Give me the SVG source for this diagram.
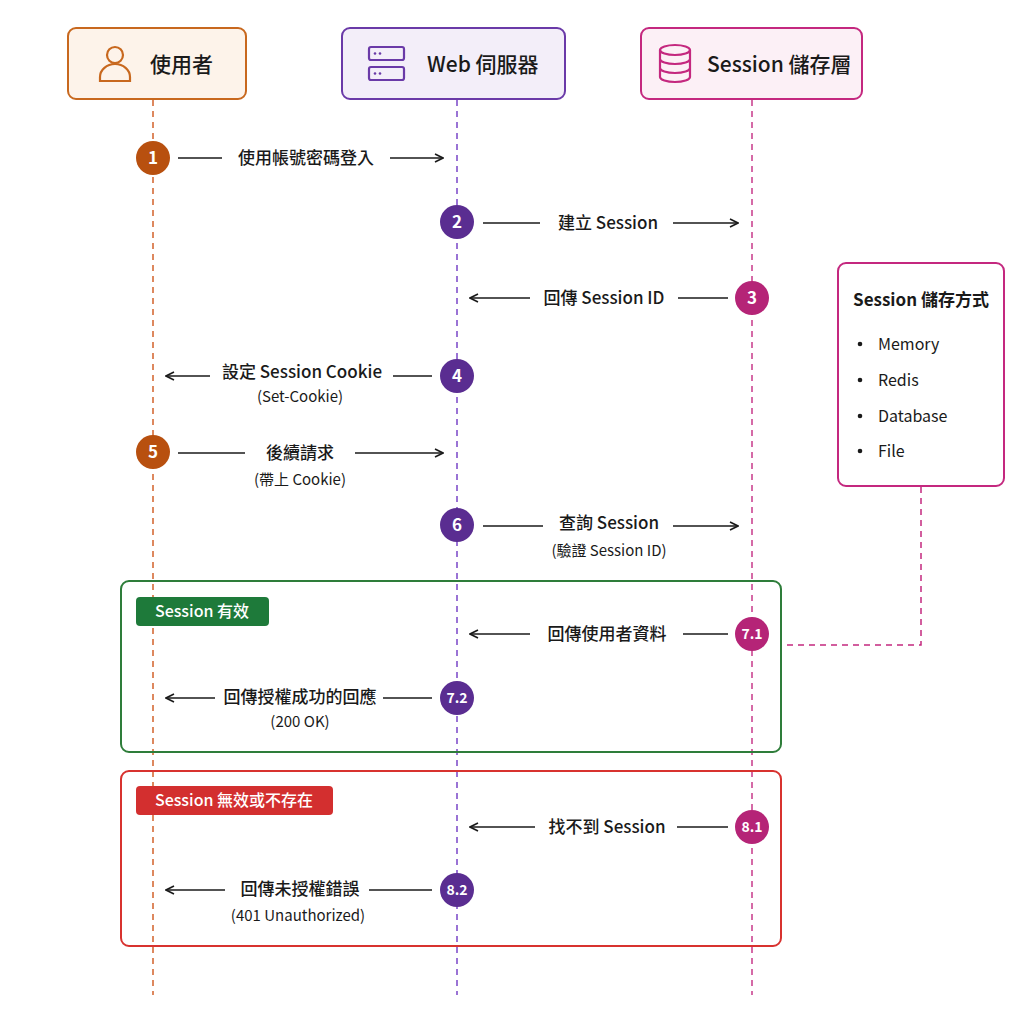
<svg xmlns="http://www.w3.org/2000/svg" width="1024" height="1024" viewBox="0 0 1024 1024">
<style>
text{font-family:"Noto Sans CJK TC","Noto Sans",sans-serif;fill:#1a1a1a}
.h{font-size:21px;font-weight:500}
.m{font-size:17px;font-weight:500;text-anchor:middle}
.s{font-size:15px;text-anchor:middle}
.n{font-size:17px;font-weight:700;fill:#fff;text-anchor:middle}
.nn{font-size:14px;font-weight:700;fill:#fff;text-anchor:middle}
.ln{stroke:#1a1a1a;stroke-width:1.6;fill:none}
.la{stroke:#1a1a1a;stroke-width:1.6;fill:none;marker-end:url(#a)}
</style>
<defs>
<marker id="a" viewBox="0 0 10 10" refX="9" refY="5" markerWidth="10" markerHeight="10" markerUnits="userSpaceOnUse" orient="auto"><path d="M1,1 L9,5 L1,9" fill="none" stroke="#1a1a1a" stroke-width="1.6"/></marker>
</defs>
<rect width="1024" height="1024" fill="#fff"/>
<g id="lifelines">
<line x1="153" y1="100" x2="153" y2="995" stroke="#d2622a" stroke-width="1.5" stroke-dasharray="6,5"/>
<line x1="457" y1="100" x2="457" y2="995" stroke="#7a45c8" stroke-width="1.5" stroke-dasharray="6,5"/>
<line x1="752" y1="100" x2="752" y2="995" stroke="#c83a8a" stroke-width="1.5" stroke-dasharray="6,5"/>
</g>
<g id="user">
<rect x="68" y="28" width="178" height="71" rx="8" fill="#fdf3ea" stroke="#c8681e" stroke-width="2"/>
<circle cx="115" cy="55" r="8" fill="none" stroke="#c8681e" stroke-width="2.2"/>
<path d="M100,81 v-4 a15,13 0 0 1 30,0 v4 z" fill="none" stroke="#c8681e" stroke-width="2.2"/>
<text x="150" y="72" class="h">使用者</text>
</g>
<g id="web">
<rect x="342" y="28" width="223" height="71" rx="8" fill="#f3eef9" stroke="#6a3aa8" stroke-width="2"/>
<rect x="369" y="47" width="35" height="13" rx="2" fill="none" stroke="#6a3aa8" stroke-width="2.2"/>
<rect x="369" y="67" width="35" height="13" rx="2" fill="none" stroke="#6a3aa8" stroke-width="2.2"/>
<circle cx="375" cy="53.5" r="1.3" fill="#6a3aa8"/><circle cx="380" cy="53.5" r="1.3" fill="#6a3aa8"/>
<circle cx="375" cy="73.5" r="1.3" fill="#6a3aa8"/><circle cx="380" cy="73.5" r="1.3" fill="#6a3aa8"/>
<text x="427" y="72" class="h">Web 伺服器</text>
</g>
<g id="store">
<rect x="641" y="28" width="221" height="71" rx="8" fill="#fcf0f6" stroke="#c4287f" stroke-width="2"/>
<ellipse cx="675" cy="50" rx="15" ry="5" fill="none" stroke="#c4287f" stroke-width="2.2"/>
<path d="M660,50 v27 a15,5 0 0 0 30,0 v-27 M660,59 a15,5 0 0 0 30,0 M660,68 a15,5 0 0 0 30,0" fill="none" stroke="#c4287f" stroke-width="2.2"/>
<text x="707" y="72" class="h">Session 儲存層</text>
</g>
<g id="groups">
<rect x="121" y="581" width="660" height="171" rx="8" fill="none" stroke="#2e7d3a" stroke-width="2"/>
<rect x="136" y="597" width="133" height="29" rx="4" fill="#1e7a3a"/>
<text x="202" y="617" font-size="16" font-weight="500" style="fill:#fff" text-anchor="middle">Session 有效</text>
<rect x="121" y="771" width="660" height="175" rx="8" fill="none" stroke="#d8322f" stroke-width="2"/>
<rect x="136" y="786" width="197" height="29" rx="4" fill="#d32f2f"/>
<text x="234" y="806" font-size="16" font-weight="500" style="fill:#fff" text-anchor="middle">Session 無效或不存在</text>
</g>
<g id="note">
<rect x="838" y="263" width="166" height="223" rx="8" fill="#fff" stroke="#c4287f" stroke-width="2"/>
<text x="921" y="306" font-size="17" font-weight="600" text-anchor="middle">Session 儲存方式</text>
<g font-size="16">
<circle cx="860" cy="344" r="2.3" fill="#1a1a1a"/><text x="878" y="350" font-size="16">Memory</text>
<circle cx="860" cy="380" r="2.3" fill="#1a1a1a"/><text x="878" y="386" font-size="16">Redis</text>
<circle cx="860" cy="416" r="2.3" fill="#1a1a1a"/><text x="878" y="422" font-size="16">Database</text>
<circle cx="860" cy="451" r="2.3" fill="#1a1a1a"/><text x="878" y="457" font-size="16">File</text>
</g>
</g>
<g id="connectors">
<path d="M921,487 V645 H783" fill="none" stroke="#c4287f" stroke-width="1.5" stroke-dasharray="6,5"/>
<line x1="178" y1="158" x2="222" y2="158" class="ln"/><line x1="390" y1="158" x2="443" y2="158" class="la"/>
<line x1="483" y1="223" x2="540" y2="223" class="ln"/><line x1="673" y1="223" x2="738" y2="223" class="la"/>
<line x1="728" y1="298" x2="678" y2="298" class="ln"/><line x1="530" y1="298" x2="470" y2="298" class="la"/>
<line x1="432" y1="376" x2="393" y2="376" class="ln"/><line x1="210" y1="376" x2="166" y2="376" class="la"/>
<line x1="178" y1="453" x2="245" y2="453" class="ln"/><line x1="355" y1="453" x2="443" y2="453" class="la"/>
<line x1="483" y1="526" x2="543" y2="526" class="ln"/><line x1="673" y1="526" x2="738" y2="526" class="la"/>
<line x1="728" y1="634" x2="683" y2="634" class="ln"/><line x1="530" y1="634" x2="470" y2="634" class="la"/>
<line x1="432" y1="698" x2="383" y2="698" class="ln"/><line x1="215" y1="698" x2="166" y2="698" class="la"/>
<line x1="728" y1="827" x2="677" y2="827" class="ln"/><line x1="535" y1="827" x2="470" y2="827" class="la"/>
<line x1="432" y1="890" x2="369" y2="890" class="ln"/><line x1="225" y1="890" x2="166" y2="890" class="la"/>
</g>
<g id="labels">
<text x="306" y="164" class="m">使用帳號密碼登入</text>
<text x="608" y="229" class="m">建立 Session</text>
<text x="604" y="304" class="m">回傳 Session ID</text>
<text x="302" y="378" class="m">設定 Session Cookie</text>
<text x="300" y="402" class="s">(Set-Cookie)</text>
<text x="300" y="459" class="m">後續請求</text>
<text x="300" y="485" class="s">(帶上 Cookie)</text>
<text x="609" y="529" class="m">查詢 Session</text>
<text x="609" y="556" class="s">(驗證 Session ID)</text>
<text x="607" y="640" class="m">回傳使用者資料</text>
<text x="300" y="703" class="m">回傳授權成功的回應</text>
<text x="300" y="727" class="s">(200 OK)</text>
<text x="607" y="833" class="m">找不到 Session</text>
<text x="300" y="895" class="m">回傳未授權錯誤</text>
<text x="298" y="921" class="s">(401 Unauthorized)</text>
</g>
<g id="steps">
<circle cx="153" cy="158" r="17" fill="#b8500f"/><text x="153" y="164" class="n">1</text>
<circle cx="457" cy="222" r="17" fill="#5a2d91"/><text x="457" y="228" class="n">2</text>
<circle cx="752" cy="298" r="17" fill="#b52477"/><text x="752" y="304" class="n">3</text>
<circle cx="457" cy="376" r="17" fill="#5a2d91"/><text x="457" y="382" class="n">4</text>
<circle cx="153" cy="452" r="17" fill="#b8500f"/><text x="153" y="458" class="n">5</text>
<circle cx="457" cy="525" r="17" fill="#5a2d91"/><text x="457" y="531" class="n">6</text>
<circle cx="752" cy="634" r="17" fill="#b52477"/><text x="752" y="639" class="nn">7.1</text>
<circle cx="457" cy="698" r="17" fill="#5a2d91"/><text x="457" y="703" class="nn">7.2</text>
<circle cx="752" cy="827" r="17" fill="#b52477"/><text x="752" y="832" class="nn">8.1</text>
<circle cx="457" cy="890" r="17" fill="#5a2d91"/><text x="457" y="895" class="nn">8.2</text>
</g>
</svg>
